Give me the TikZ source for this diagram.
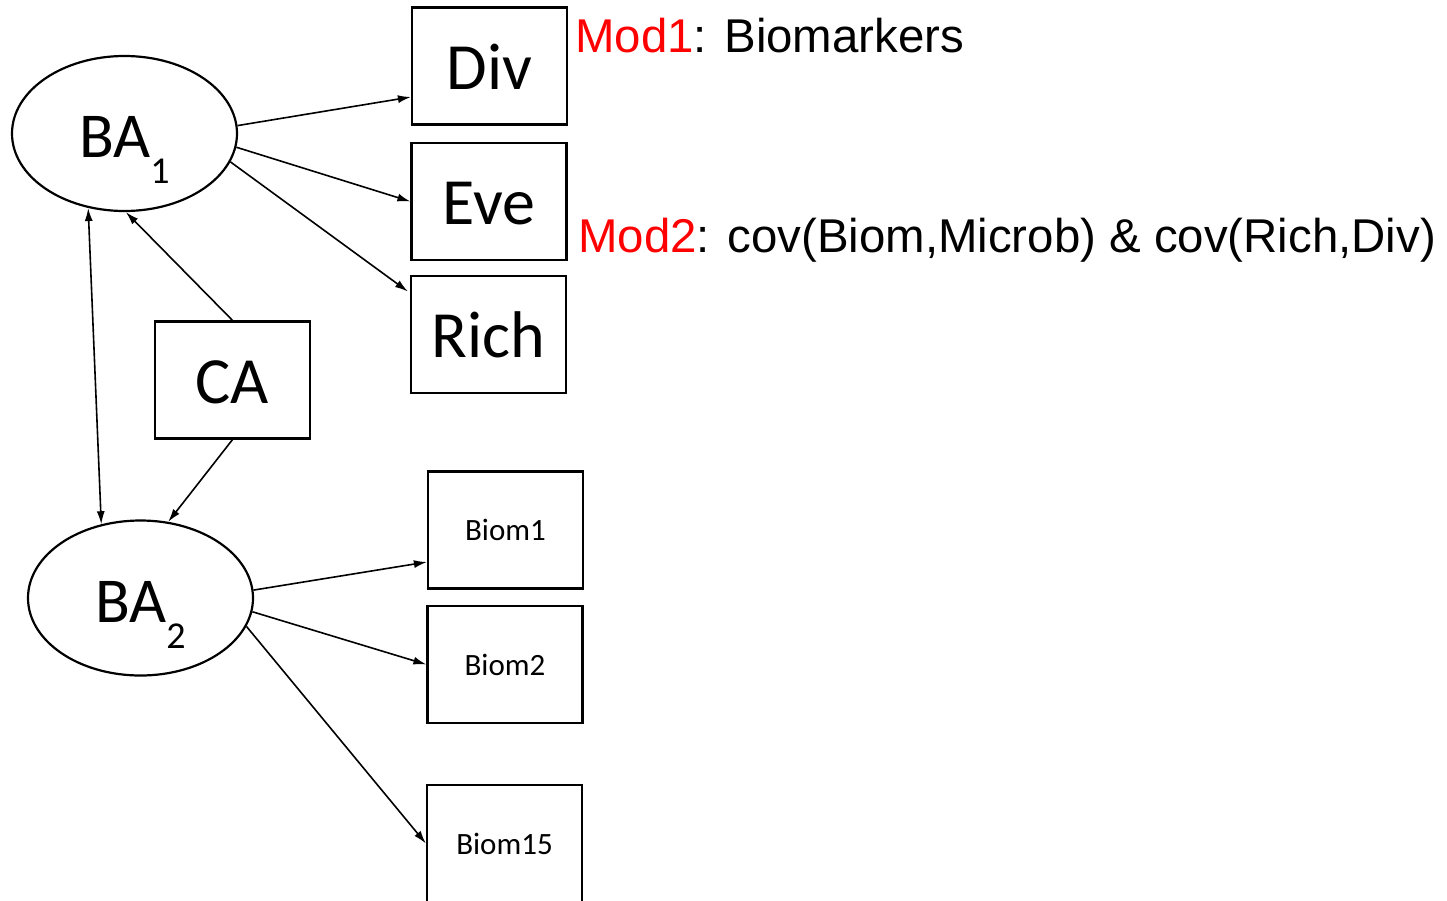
\documentclass[tikz,border=0pt]{standalone}
\usepackage{fontspec}
\setmainfont{Carlito}
\newfontfamily\arialf{Liberation Sans}
\usetikzlibrary{shapes.geometric,arrows.meta,calc}
\definecolor{modred}{RGB}{255,0,0}
\begin{document}
\begin{tikzpicture}[x=1pt,y=-1pt,
  box/.style={draw,line width=2.2pt,minimum width=155pt,minimum height=117pt,inner sep=0pt,text height=47pt,font=\fontsize{66}{66}\selectfont},
  sbox/.style={draw,line width=2.2pt,minimum width=155pt,minimum height=117pt,inner sep=0pt,font=\fontsize{31}{31}\selectfont},
  lat/.style={draw,ellipse,line width=2.2pt,minimum width=225pt,minimum height=155pt,inner sep=0pt},
  latlab/.style={anchor=base,inner sep=0pt,font=\fontsize{64}{64}\selectfont},
  modtxt/.style={anchor=base west,inner sep=0pt,font=\arialf\fontsize{47.4}{48}\selectfont},
  arr/.style={line width=1.6pt,-{Latex[length=13pt,width=8pt]}},
  darr/.style={line width=1.6pt,{Latex[length=13pt,width=8pt]}-{Latex[length=13pt,width=8pt]}}
]
\useasboundingbox (0,0) rectangle (1447,900);
% latent variables
\node[lat] (BA1) at (124.5,133.5) {};
\node[latlab] (BA1t) at (124.5,157) {BA\raisebox{-26pt}{\fontsize{38}{38}\selectfont 1}};
\node[lat] (BA2) at (140.5,598) {};
\node[latlab] (BA2t) at (140.5,622) {BA\raisebox{-26pt}{\fontsize{38}{38}\selectfont 2}};
% boxes
\node[box] (Div) at (489.5,66) {Div};
\node[box] (Eve) at (489,201.5) {Eve};
\node[box] (Rich) at (488.5,334.5) {Rich};
\node[box] (CA) at (232.5,380) {CA};
\node[sbox] (B1) at (505.5,530) {Biom1};
\node[sbox] (B2) at (505,664.5) {Biom2};
\node[sbox] (B15) at (504.5,843.5) {Biom15};
% texts
\node[modtxt] (mod1) at (575,52) {\textcolor{modred}{Mod1}: Biomarkers};
\node[modtxt] (mod2) at (578,252) {\textcolor{modred}{Mod2}: cov(Biom,Microb) \& cov(Rich,Div)};
% connectors
\draw[arr] (BA1.4) -- ($(Div.west)+(0,31)$);
\draw[arr] (BA1.-7.8) -- (Eve.west);
\draw[arr] (BA1.-15.8) -- ($(Rich.west)+(-2,-43)$);
\draw[arr] (CA.north) -- (BA1.-89);
\draw[darr] (BA1.-116) -- (BA2.118.5);
\draw[arr] (CA.south) -- (BA2.70);
\draw[arr] (BA2.4.5) -- ($(B1.west)+(0,32)$);
\draw[arr] (BA2.-7) -- (B2.west);
\draw[arr] (BA2.-15) -- (B15.west);
\end{tikzpicture}
\end{document}
